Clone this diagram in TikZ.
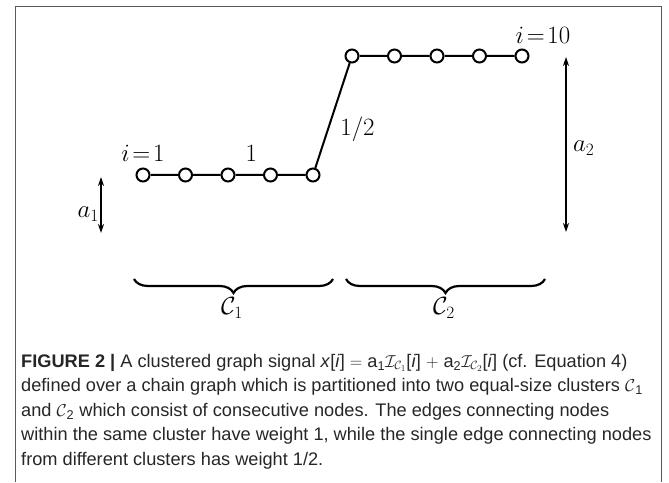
\documentclass[tikz,border=0pt]{standalone}
\usepackage{amsmath}
\usepackage{fontspec}
\newfontfamily\capfont{Liberation Sans}
\usetikzlibrary{arrows.meta, positioning, calc, decorations.pathreplacing}

\begin{document}
\begin{tikzpicture}[
x=1pt, y=1pt,
vtx/.style={circle, draw, line width=2pt, fill=white, inner sep=0pt, minimum size=13pt},
edge/.style={line width=2pt},
lbl/.style={font=\fontsize{23}{23}\selectfont, inner sep=1pt},
arrow/.style={{Stealth[length=9pt,width=6pt]}-{Stealth[length=9pt,width=6pt]}, line width=1.9pt},
cluster/.style={decorate, decoration={brace, mirror, amplitude=14pt}, line width=2.2pt},
frame/.style={draw=black!65, line width=1pt},
node distance=42.5pt and 42.5pt, on grid
]
\useasboundingbox (0,0) rectangle (669,482);
\draw[frame] (15,0) -- (15,475) -- (661,475) -- (661,0);

% lower cluster
\node[vtx] (n1) at (143,307) {};
\node[vtx, right=of n1] (n2) {};
\node[vtx, right=of n2] (n3) {};
\node[vtx, right=of n3] (n4) {};
\node[vtx, right=of n4] (n5) {};
% upper cluster
\node[vtx] (n6) at (352,426) {};
\node[vtx, right=of n6] (n7) {};
\node[vtx, right=of n7] (n8) {};
\node[vtx, right=of n8] (n9) {};
\node[vtx, right=of n9] (n10) {};

\draw[edge] (n1) -- (n2) -- (n3) -- (n4) -- (n5) -- (n6) -- (n7) -- (n8) -- (n9) -- (n10);

\node[lbl] (first) at ([yshift=22pt]n1) {$i\!=\!1$};
\node[lbl] (last) at ([shift={(21pt,21pt)}]n10) {$i\!=\!10$};
\node[lbl] (w1) at ($(n3)!0.5!(n4)+(2,22)$) {$1$};
\node[lbl] (w12) at ($(n5)!0.5!(n6)+(25,-14)$) {$1/2$};

% signal levels
\coordinate (a1top) at (101,305);
\coordinate (a1bot) at (101,249);
\draw[arrow] (a1bot) -- (a1top);
\node[lbl, anchor=east] (a1) at (100,268) {$a_1$};
\coordinate (a2top) at (566,425);
\coordinate (a2bot) at (566,250);
\draw[arrow] (a2bot) -- (a2top);
\node[lbl, anchor=west] (a2) at (572,334) {$a_2$};

% clusters
\coordinate (c1l) at (134,203);
\coordinate (c1r) at (333,203);
\coordinate (c2l) at (346,203);
\coordinate (c2r) at (545,203);
\draw[cluster] (c1l) -- (c1r);
\draw[cluster] (c2l) -- (c2r);
\node[lbl] (c1) at (232,174) {$\mathcal{C}_1$};
\node[lbl] (c2) at (444,174) {$\mathcal{C}_2$};

\node[anchor=north west, inner sep=0pt, align=left, text=black!85,
  font=\capfont\fontsize{18.2}{24.5}\selectfont] (cap) at (21,128)
{\textbf{FIGURE 2 |} A clustered graph signal \textit{x}[\textit{i}] $=$ a\textsubscript{1}$\mathcal{I}_{\mathcal{C}_1}$[\textit{i}] $+$ a\textsubscript{2}$\mathcal{I}_{\mathcal{C}_2}$[\textit{i}] (cf. Equation 4)\\
defined over a chain graph which is partitioned into two equal-size clusters $\mathcal{C}$\textsubscript{1}\\
and $\mathcal{C}$\textsubscript{2} which consist of consecutive nodes. The edges connecting nodes\\
within the same cluster have weight 1, while the single edge connecting nodes\\
from different clusters has weight 1/2.};
\end{tikzpicture}
\end{document}
